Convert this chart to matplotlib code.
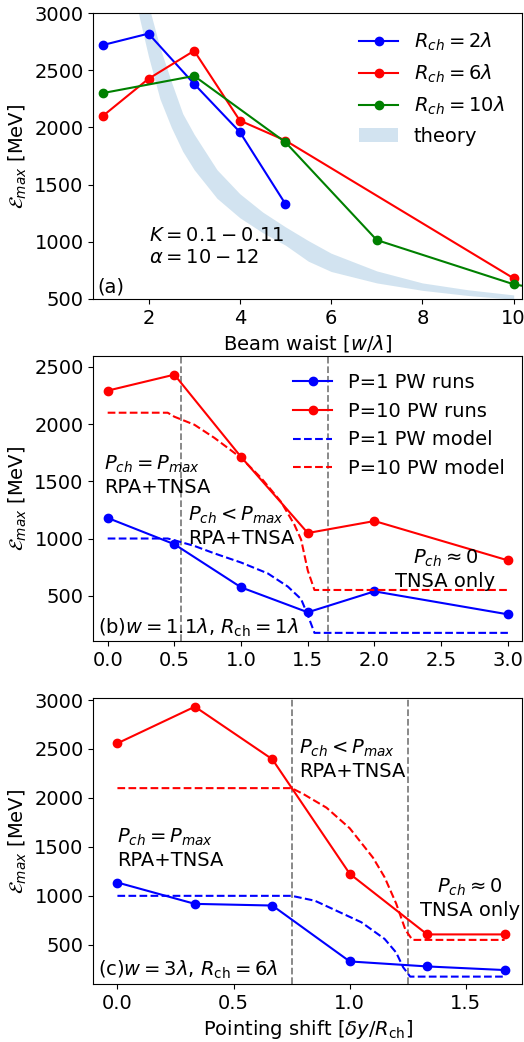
import matplotlib
matplotlib.use("Agg")
import matplotlib.pyplot as plt

plt.rcParams["font.size"] = 14

# ==============================
# (a) max energy vs beam waist
# ==============================
w_r2 = [1, 2, 3, 4, 5]
e_r2 = [2720, 2820, 2380, 1960, 1330]

w_r6 = [1, 2, 3, 4, 5, 10]
e_r6 = [2100, 2425, 2670, 2060, 1885, 680]

w_r10 = [1, 3, 5, 7, 10, 12]
e_r10 = [2300, 2450, 1870, 1015, 628, 490]

# theory band (K=0.1-0.11, alpha=10-12), edges
w_th = [1.6, 1.8, 2.0, 2.25, 2.5, 2.75, 3.0, 3.5, 4.0, 4.5, 5.0, 5.5, 6.0, 7.0, 8.0, 9.0, 10.0]
th_high = [3900, 3450, 3070, 2700, 2400, 2120, 1940, 1630, 1420, 1260, 1130, 1010, 900, 745, 640, 580, 535]
th_low = [3400, 2960, 2620, 2250, 2000, 1790, 1630, 1380, 1210, 1080, 970, 830, 740, 640, 575, 530, 497]

# ==============================
# (b) pointing shift, w=1.1, Rch=1
# ==============================
xb_runs = [0.0, 0.5, 1.0, 1.5, 2.0, 3.0]
eb_p1 = [1180, 950, 573, 355, 538, 337]
eb_p10 = [2293, 2433, 1713, 1048, 1153, 809]

xb_m1 = [0.0, 0.45, 0.5, 0.65, 0.8, 1.0, 1.2, 1.35, 1.45, 1.5, 1.55, 3.0]
eb_m1 = [1000, 1000, 985, 935, 870, 790, 695, 580, 470, 330, 175, 175]
xb_m10 = [0.0, 0.45, 0.5, 0.65, 0.8, 1.0, 1.15, 1.3, 1.4, 1.45, 1.5, 1.55, 3.0]
eb_m10 = [2100, 2100, 2065, 1995, 1880, 1705, 1530, 1320, 1120, 990, 720, 550, 550]

xb_lines = [0.55, 1.65]

# ==============================
# (c) pointing shift, w=3, Rch=6
# ==============================
xc_runs = [0.0, 1/3, 2/3, 1.0, 4/3, 5/3]
ec_p1 = [1136, 918, 901, 330, 279, 242]
ec_p10 = [2558, 2932, 2395, 1225, 606, 606]

xc_m1 = [0.0, 0.75, 0.85, 0.95, 1.05, 1.15, 1.2, 1.23, 1.26, 5/3]
ec_m1 = [1000, 1000, 950, 840, 730, 560, 420, 270, 175, 175]
xc_m10 = [0.0, 0.75, 0.8, 0.9, 1.0, 1.1, 1.15, 1.2, 1.24, 1.27, 5/3]
ec_m10 = [2100, 2100, 2040, 1900, 1690, 1390, 1190, 920, 650, 550, 550]

xc_lines = [0.75, 1.25]


fig, axes = plt.subplots(3, 1, figsize=(5.24, 10.42), dpi=100)
fig.subplots_adjust(left=0.178, right=0.996, top=0.9875, bottom=0.0557, hspace=0.198)

ylab = r"$\mathcal{E}_{max}$ [MeV]"

# ---- panel a
ax = axes[0]
ax.plot(w_r2, e_r2, "o-", color="blue", label=r"$R_{ch}=2\lambda$")
ax.plot(w_r6, e_r6, "o-", color="red", label=r"$R_{ch}=6\lambda$")
ax.plot(w_r10, e_r10, "o-", color="green", label=r"$R_{ch}=10\lambda$")
ax.fill_between(w_th, th_low, th_high, color="C0", alpha=0.2, lw=0, label="theory")
ax.set_xlim(0.79, 10.18)
ax.set_ylim(500, 3000)
ax.set_xlabel(r"Beam waist [$w/\lambda$]")
ax.set_ylabel(ylab)
ax.text(2.0, 780, "$K=0.1-0.11$\n$\\alpha=10-12$", va="bottom")
ax.text(0.01, 0.01, "(a)", transform=ax.transAxes, va="bottom")
ax.legend(loc="upper right", frameon=False)

# ---- panel b
ax = axes[1]
for xv in xb_lines:
    ax.axvline(xv, color="gray", ls="--", lw=1.3)
ax.plot(xb_runs, eb_p1, "o-", color="blue", label="P=1 PW runs")
ax.plot(xb_runs, eb_p10, "o-", color="red", label="P=10 PW runs")
ax.plot(xb_m1, eb_m1, "--", color="blue", label="P=1 PW model")
ax.plot(xb_m10, eb_m10, "--", color="red", label="P=10 PW model")
ax.set_xlim(-0.108, 3.105)
ax.set_ylim(100, 2600)
ax.set_ylabel(ylab)
ax.text(-0.03, 1365, "$P_{ch}=P_{max}$\nRPA+TNSA", va="bottom")
ax.text(0.605, 920, "$P_{ch}<P_{max}$\nRPA+TNSA", va="bottom")
ax.text(2.53, 540, "$P_{ch}\\approx 0$\nTNSA only", va="bottom", ha="center",
        multialignment="center")
ax.text(0.01, 0.01, r"(b)$w=1.1\lambda$, $R_{\rm ch}=1\lambda$",
        transform=ax.transAxes, va="bottom")
ax.legend(loc="upper right", frameon=False)

# ---- panel c
ax = axes[2]
for xv in xc_lines:
    ax.axvline(xv, color="gray", ls="--", lw=1.3)
ax.plot(xc_runs, ec_p1, "o-", color="blue")
ax.plot(xc_runs, ec_p10, "o-", color="red")
ax.plot(xc_m1, ec_m1, "--", color="blue")
ax.plot(xc_m10, ec_m10, "--", color="red")
ax.set_xlim(-0.104, 1.741)
ax.set_ylim(100, 3020)
ax.set_xlabel(r"Pointing shift [$\delta y/R_{\rm ch}$]")
ax.set_ylabel(ylab)
ax.text(0.0, 1265, "$P_{ch}=P_{max}$\nRPA+TNSA", va="bottom")
ax.text(0.78, 2168, "$P_{ch}<P_{max}$\nRPA+TNSA", va="bottom")
ax.text(1.518, 757, "$P_{ch}\\approx 0$\nTNSA only", va="bottom", ha="center",
        multialignment="center")
ax.text(0.01, 0.01, r"(c)$w=3\lambda$, $R_{\rm ch}=6\lambda$",
        transform=ax.transAxes, va="bottom")

plt.savefig("out.png", dpi=100)
